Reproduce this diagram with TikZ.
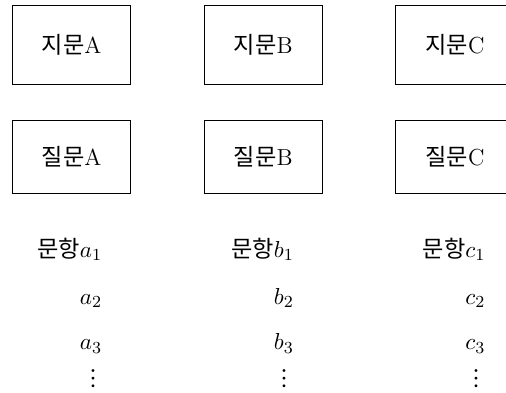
\documentclass[tikz,border=0pt]{standalone}
\usepackage{fontspec}
\newfontfamily\kor{Noto Sans CJK KR}
\newfontfamily\lmm{latinmodern-math.otf}
\usetikzlibrary{positioning}

\begin{document}
\begin{tikzpicture}[
    every node/.style={font=\fontsize{11}{13}\selectfont},
    box/.style={draw, line width=0.5pt, minimum width=56pt, inner sep=0pt},
    topbox/.style={box, minimum height=37.5pt},
    qbox/.style={box, minimum height=34.6pt},
    item/.style={inner sep=0pt, anchor=base east},
    more/.style={inner sep=0pt, anchor=base, font=\fontsize{13}{15}\lmm},
]
\useasboundingbox (0,0) rectangle (240pt,-186.4pt);
% passages
\node[topbox, anchor=north west] (jimunA) at (5.7pt,-2.4pt) {{\kor 지문}A};
\node[topbox, right=34.4pt of jimunA] (jimunB) {{\kor 지문}B};
\node[topbox, right=34.4pt of jimunB] (jimunC) {{\kor 지문}C};
% questions
\node[qbox, below=16.6pt of jimunA] (jilmunA) {{\kor 질문}A};
\node[qbox, below=16.6pt of jimunB] (jilmunB) {{\kor 질문}B};
\node[qbox, below=16.6pt of jimunC] (jilmunC) {{\kor 질문}C};
% items
\node[item] (munA1) at ([xshift=14.7pt, yshift=-29.8pt]jilmunA.south) {{\kor 문항}$a_1$};
\node[item] (munA2) at ([yshift=-22.3pt]munA1.base east) {$a_2$};
\node[item] (munA3) at ([yshift=-21.8pt]munA2.base east) {$a_3$};
\node[more] (munA4) at ([xshift=-4.5pt, yshift=-16.9pt]munA3.base east) {⋮};
\node[item] (munB1) at ([xshift=14.7pt, yshift=-29.8pt]jilmunB.south) {{\kor 문항}$b_1$};
\node[item] (munB2) at ([yshift=-22.3pt]munB1.base east) {$b_2$};
\node[item] (munB3) at ([yshift=-21.8pt]munB2.base east) {$b_3$};
\node[more] (munB4) at ([xshift=-4.5pt, yshift=-16.9pt]munB3.base east) {⋮};
\node[item] (munC1) at ([xshift=14.7pt, yshift=-29.8pt]jilmunC.south) {{\kor 문항}$c_1$};
\node[item] (munC2) at ([yshift=-22.3pt]munC1.base east) {$c_2$};
\node[item] (munC3) at ([yshift=-21.8pt]munC2.base east) {$c_3$};
\node[more] (munC4) at ([xshift=-4.5pt, yshift=-16.9pt]munC3.base east) {⋮};
\end{tikzpicture}
\end{document}
